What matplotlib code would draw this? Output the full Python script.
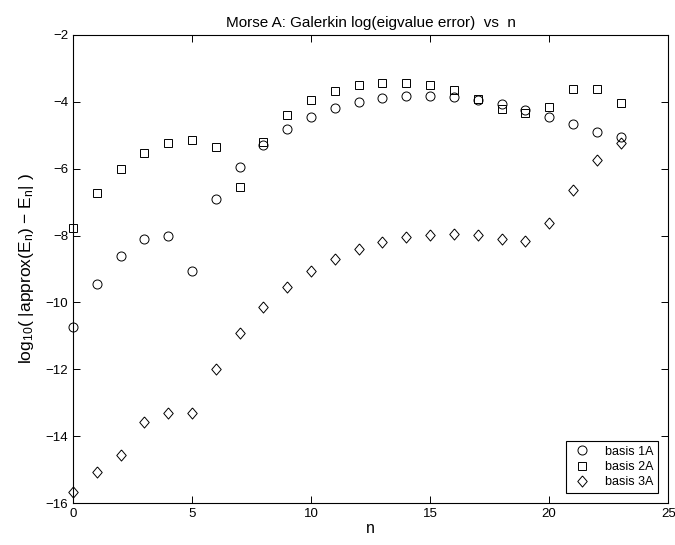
import numpy as np
import matplotlib
matplotlib.use('Agg')
from matplotlib import pyplot as plt

plt.rcParams['font.family'] = ['Liberation Sans', 'DejaVu Sans']
plt.rcParams['mathtext.default'] = 'regular'

# eigenvalue index
n = np.arange(24)

# log10 errors
basis_1a = [-10.74, -9.46, -8.62, -8.11, -8.02, -9.07, -6.91, -5.95, -5.29, -4.81,
            -4.46, -4.19, -4.00, -3.89, -3.83, -3.83, -3.87, -3.96, -4.07, -4.25,
            -4.46, -4.66, -4.89, -5.04]
basis_2a = [-7.78, -6.73, -6.01, -5.53, -5.24, -5.14, -5.35, -6.54, -5.20, -4.40,
            -3.95, -3.68, -3.50, -3.43, -3.43, -3.49, -3.65, -3.92, -4.22, -4.33,
            -4.16, -3.63, -3.63, -4.03]
basis_3a = [-15.68, -15.08, -14.55, -13.59, -13.32, -13.32, -12.00, -10.92, -10.14, -9.54,
            -9.07, -8.69, -8.41, -8.20, -8.05, -7.97, -7.96, -7.99, -8.11, -8.16,
            -7.63, -6.64, -5.75, -5.24]

xticks = [0, 5, 10, 15, 20, 25]
yticks = [-2, -4, -6, -8, -10, -12, -14, -16]

# matlab-style diamond, a bit taller than wide
diamond = [(0, 1), (0.85, 0), (0, -1), (-0.85, 0), (0, 1)]

fig = plt.figure(figsize=(6.75, 5.45), dpi=100)
ax = fig.add_axes([0.108, 0.077, 0.882, 0.859])

mk = dict(linestyle='none', mfc='none', mec='k', mew=0.7, clip_on=False)
ax.plot(n, basis_1a, marker='o', ms=6.5, label='basis 1A', **mk)
ax.plot(n, basis_2a, marker='s', ms=5.5, label='basis 2A', **mk)
ax.plot(n, basis_3a, marker=diamond, ms=8, label='basis 3A', **mk)

ax.set_xlim(0, 25)
ax.set_ylim(-16, -2)
ax.set_xticks(xticks)
ax.set_yticks(yticks)
ax.tick_params(direction='in', top=True, right=True, labelsize=9.5, length=5, width=0.7)
for s in ax.spines.values():
    s.set_linewidth(0.8)

ax.set_title('Morse A: Galerkin log(eigvalue error)  vs  n', fontsize=11, pad=6)
ax.set_xlabel('n', fontsize=11.5, labelpad=1)
ax.set_ylabel(r'log$_{10}$( |approx(E$_n$) $-$ E$_n$| )', fontsize=12.5, labelpad=7)

leg = ax.legend(loc='lower right', fontsize=9, fancybox=False, edgecolor='k',
                framealpha=1, borderaxespad=0.8, handletextpad=0.9, handlelength=1.8,
                labelspacing=0.25, borderpad=0.4)
leg.get_frame().set_linewidth(0.8)

fig.savefig('out.png', dpi=100)
